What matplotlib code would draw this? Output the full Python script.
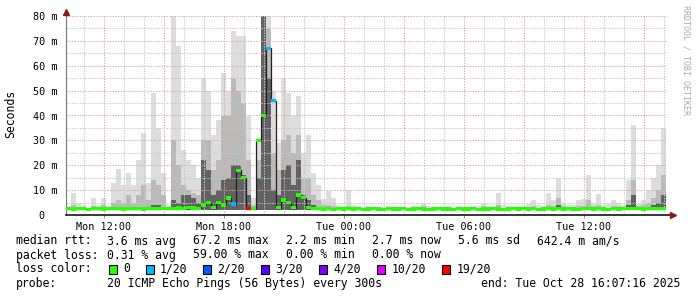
import numpy as np
import matplotlib
matplotlib.use('Agg')
import matplotlib.pyplot as plt
from matplotlib.patches import Rectangle

# smokeping style data, 15 minute steps, values in milliseconds
start_hour = 10.125
step_hours = 0.25

ping_max = [3, 9, 5, 4, 3, 7, 4, 7, 3.5, 13, 18.5, 12, 17, 12, 22, 33, 13, 49, 35, 17,
            4, 80, 68, 26, 22, 20, 15, 55, 50, 32, 38, 57, 50, 74, 72, 72, 40, 7, 31, 80,
            80, 50, 29, 55, 49, 40, 48, 25, 32, 17, 12, 6.5, 9.6, 7, 4, 3.5, 10, 4, 3.5, 3.2,
            3.5, 3.2, 3.3, 3.2, 3.5, 3.4, 3.2, 3.3, 3.2, 3.5, 3.4, 5, 3.6, 3.3, 3.4, 3.2, 3.6, 3.3, 3.5, 3.4,
            3.3, 3.6, 3.5, 5, 3.5, 3.8, 9, 4, 3.6, 3.5, 3.8, 3.6, 4.5, 6, 4, 3.8, 9, 6, 15, 5,
            4, 4.2, 6, 6.5, 16, 5, 8.5, 4, 4.5, 6, 5, 4, 14, 36, 5, 6, 10, 15, 20, 35]

ping_mid = [2.8, 4, 3, 3, 2.8, 3.5, 3, 4, 3, 5, 6, 5, 8, 5, 8, 12, 6, 14, 12, 8,
            3, 30, 20, 12, 10, 9, 8, 30, 30, 18, 22, 40, 40, 55, 50, 45, 22, 4, 22, 80,
            75, 25, 18, 30, 32, 25, 32, 15, 15, 8, 6, 4, 4, 3.5, 3, 3, 3.5, 3, 3, 3,
            3, 3, 3, 3, 3, 3, 3, 3, 3, 3, 3, 3.5, 3, 3, 3, 3, 3, 3, 3, 3,
            3, 3, 3, 3.5, 3, 3, 4, 3, 3, 3, 3, 3, 3, 3.5, 3, 3, 4, 3.5, 7, 3.5,
            3, 3, 3.5, 3.5, 6, 3.5, 4, 3, 3, 3.5, 3.5, 3, 6, 14, 3.5, 4, 5, 7, 10, 16]

ping_core = [2.5, 2.5, 2.5, 2.5, 2.5, 2.5, 2.5, 2.5, 2.5, 2.5, 2.5, 2.5, 2.5, 2.5, 2.5, 3, 2.5, 4, 4, 2.5,
             2.5, 6, 5, 8, 8, 7, 5, 22, 18, 8, 10, 14, 15, 20, 20, 16, 8, 3, 15, 80,
             55, 10, 8, 18, 20, 12, 22, 8, 6, 4, 2.5, 2.5, 2.5, 2.5, 2.5, 2.5, 2.5, 2.5, 2.5, 2.5,
             2.5, 2.5, 2.5, 2.5, 2.5, 2.5, 2.5, 2.5, 2.5, 2.5, 2.5, 2.5, 2.5, 2.5, 2.5, 2.5, 2.5, 2.5, 2.5, 2.5,
             2.5, 2.5, 2.5, 2.5, 2.5, 2.5, 2.5, 2.5, 2.5, 2.5, 2.5, 2.5, 2.5, 2.5, 2.5, 2.5, 2.5, 3, 4, 2.5,
             2.5, 2.5, 2.5, 2.5, 3, 2.5, 2.5, 2.5, 2.5, 2.5, 2.5, 2.5, 4, 8, 2.5, 2.5, 3, 4, 5, 8]

median_ms = [2.5, 2.4, 2.6, 2.5, 2.3, 2.5, 2.6, 2.4, 2.5, 2.6, 2.5, 2.4, 2.5, 2.6, 2.5, 2.4, 2.6, 2.5, 2.5, 2.7,
             2.5, 2.6, 2.8, 2.7, 2.9, 2.8, 2.7, 4, 5, 3, 5, 4, 6.8, 4.4, 18, 15, 2.5, 2.6, 30, 40,
             67, 46, 3, 6, 5, 3, 8, 7, 3, 2.7, 2.6, 2.4, 2.5, 2.3, 2.5, 2.4, 2.6, 2.4, 2.5, 2.3,
             2.4, 2.5, 2.4, 2.3, 2.5, 2.4, 2.4, 2.5, 2.3, 2.4, 2.5, 2.4, 2.3, 2.4, 2.5, 2.4, 2.4, 2.3, 2.5, 2.4,
             2.4, 2.5, 2.3, 2.4, 2.4, 2.5, 2.4, 2.3, 2.4, 2.5, 2.4, 2.6, 2.4, 2.5, 2.3, 2.4, 2.5, 2.4, 2.6, 2.4,
             2.5, 2.4, 2.3, 2.5, 2.6, 2.4, 2.5, 2.4, 2.3, 2.5, 2.4, 2.5, 2.6, 2.7, 2.5, 2.4, 2.5, 2.6, 2.5, 2.6]

loss_pings = [0] * 120
loss_pings[33] = 1
loss_pings[36] = 19
loss_pings[40] = 1
loss_pings[41] = 1

loss_steps = [0, 1, 2, 3, 4, 10, 19]
loss_labels = ['0', '1/20', '2/20', '3/20', '4/20', '10/20', '19/20']
loss_colors = ['#26ff00', '#00b8ff', '#0059ff', '#5e00ff', '#7e00ff', '#dd00ff', '#ff0000']

time_ticks = [12, 18, 24, 30, 36]
time_labels = ['Mon 12:00', 'Mon 18:00', 'Tue 00:00', 'Tue 06:00', 'Tue 12:00']
y_ticks = [0, 10, 20, 30, 40, 50, 60, 70, 80]
y_labels = ['0  ', '10 m', '20 m', '30 m', '40 m', '50 m', '60 m', '70 m', '80 m']

rtt_items = ['3.6 ms avg', '67.2 ms max', '2.2 ms min', '2.7 ms now', '5.6 ms sd', '642.4 m am/s']
loss_items = ['0.31 % avg', '59.00 % max', '0.00 % min', '0.00 % now']
probe_text = '20 ICMP Echo Pings (56 Bytes) every 300s'
end_text = 'end: Tue Oct 28 16:07:16 2025'

W, H = 697, 297
mono = 'DejaVu Sans Mono'

fig = plt.figure(figsize=(W / 100, H / 100), dpi=100)
ax = fig.add_axes([66 / W, 82 / H, 600 / W, 199 / H])
x0 = start_hour
x1 = start_hour + step_hours * len(median_ms)
ax.set_xlim(x0, x1)
ax.set_ylim(0, 80)

t = start_hour + step_hours * (np.arange(len(median_ms)) + 0.5)
floor = 2.0

# smoke layers
for vals, col in [(ping_max, '#dddddd'), (ping_mid, '#bababa'), (ping_core, '#626262')]:
    v = np.array(vals, dtype=float)
    ax.bar(t, np.clip(v - floor, 0, None), bottom=floor, width=step_hours,
           color=col, linewidth=0, antialiased=False, zorder=1)

# grid on top of the smoke like rrdtool
for h in np.arange(11, 41, 1):
    major = (h % 3 == 0)
    ax.axvline(h, color='#e0a8a8' if major else '#c8c8c8', lw=0.75,
               ls=(0, (1.3, 1.3)), zorder=2)
for v in np.arange(5, 81, 5):
    major = (v % 10 == 0)
    ax.axhline(v, color='#e0a8a8' if major else '#c8c8c8', lw=0.75,
               ls=(0, (1.3, 1.3)), zorder=2)

# median: dark step line plus loss coloured band
med = np.array(median_ms, dtype=float)
ax.step(t, med, where='mid', color='#202020', lw=0.9, zorder=3)
band_cols = []
for lp in loss_pings:
    c = loss_colors[0]
    for s, col in zip(loss_steps, loss_colors):
        if lp >= s:
            c = col
    band_cols.append(c)
ax.bar(t, 1.3, bottom=med - 0.65, width=step_hours, color=band_cols,
       linewidth=0, antialiased=False, zorder=4)

# axes
for s in ['top', 'right']:
    ax.spines[s].set_visible(False)
ax.spines['left'].set_color('#777777')
ax.spines['left'].set_linewidth(0.8)
ax.spines['bottom'].set_visible(False)
ax.plot([0, 1.01], [0, 0], transform=ax.transAxes, color='black', lw=1.1,
        clip_on=False, zorder=5)
ax.plot([1.011], [0], marker='>', ms=4.5, color='#8b1a1a', transform=ax.transAxes,
        clip_on=False, zorder=6)
ax.plot([0], [1.02], marker='^', ms=4.5, color='#8b1a1a', transform=ax.transAxes,
        clip_on=False, zorder=6)
ax.plot([0, 0], [1.0, 1.02], transform=ax.transAxes, color='#777777', lw=0.8,
        clip_on=False)

ax.set_xticks(time_ticks)
ax.set_xticklabels(time_labels, family=mono, fontsize=7.3)
ax.set_yticks(y_ticks)
ax.set_yticklabels(y_labels, family=mono, fontsize=7.3)
ax.tick_params(axis='x', length=2, width=0.6, color='#c06060', pad=3)
ax.tick_params(axis='y', length=0, pad=6)

fig.text(11 / W, 1 - 114 / H, 'Seconds', rotation=90, family=mono, fontsize=8.3,
         ha='center', va='center')
fig.text(686 / W, 1 - 5 / H, 'RRDTOOL / TOBI OETIKER', rotation=270, family=mono,
         fontsize=6.0, color='#aaaaaa', ha='center', va='top')

# legend, items placed at rrdtool's column positions
fs = 8.3


def txt(x, y, s, ha='left'):
    fig.text(x / W, 1 - y / H, s, family=mono, fontsize=fs, va='center', ha=ha)


txt(16, 241, 'median rtt:')
for x, s in zip([107, 193, 286.5, 372.5, 458, 537], rtt_items):
    txt(x, 241, s)
txt(16, 255, 'packet loss:')
for x, s in zip([107, 193, 286.5, 372.5], loss_items):
    txt(x, 255, s)
txt(16, 269, 'loss color:')
box_x = [108.5, 145.5, 203, 261, 319, 377, 442]
for bx, col, lab in zip(box_x, loss_colors, loss_labels):
    fig.patches.append(Rectangle((bx / W, 1 - 274 / H), 8 / W, 9 / H, transform=fig.transFigure,
                                 facecolor=col, edgecolor='black', lw=0.8))
    txt(bx + 14.5, 269, lab)
txt(16, 283.5, 'probe:')
txt(107, 283.5, probe_text)
txt(680, 283.5, end_text, ha='right')

fig.savefig('out.png', dpi=100)
